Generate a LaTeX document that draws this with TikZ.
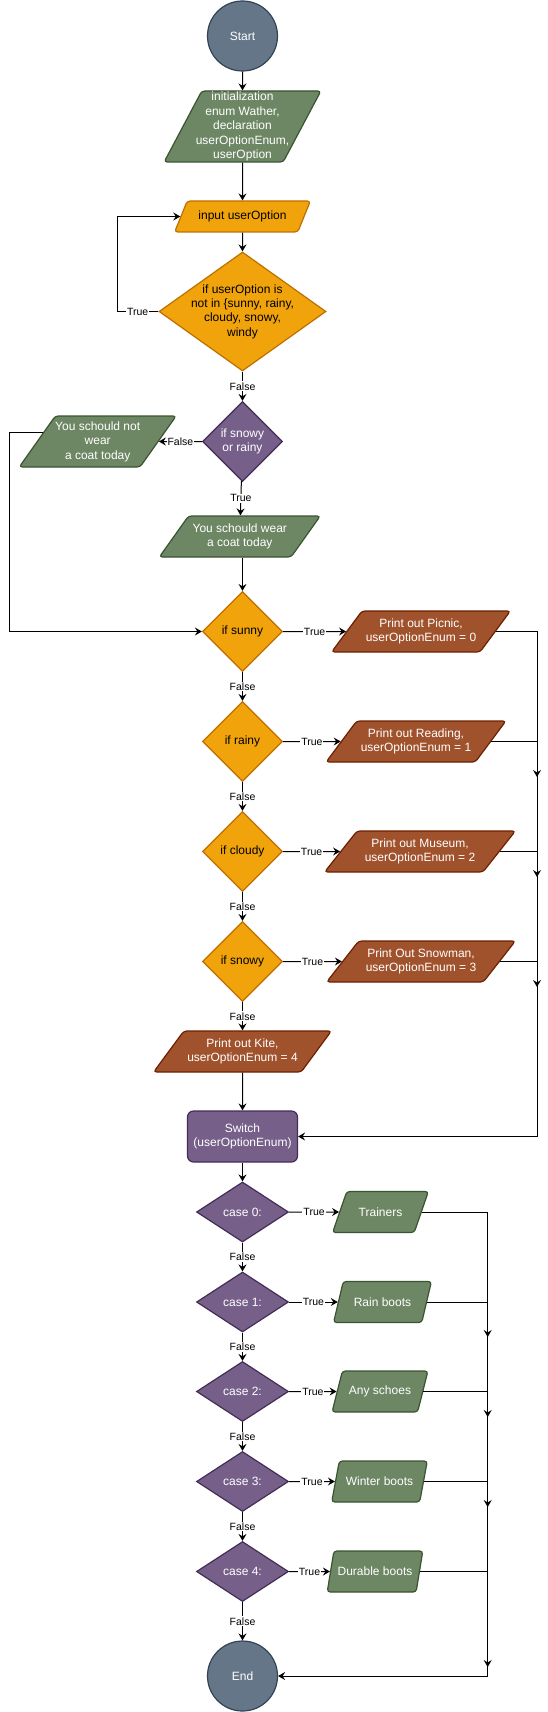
\documentclass[tikz,border=0pt]{standalone}
\usepackage{fontspec}
\setmainfont{Liberation Sans}
\usetikzlibrary{shapes.geometric,positioning,arrows.meta,calc}

\definecolor{slatefill}{HTML}{647687}
\definecolor{slateline}{HTML}{314354}
\definecolor{leaffill}{HTML}{6D8764}
\definecolor{leafline}{HTML}{3A5431}
\definecolor{amberfill}{HTML}{F0A30A}
\definecolor{amberline}{HTML}{BD7000}
\definecolor{rustfill}{HTML}{A0522D}
\definecolor{rustline}{HTML}{6D1F00}
\definecolor{plumfill}{HTML}{76608A}
\definecolor{plumline}{HTML}{432D57}

\begin{document}
\begin{tikzpicture}[x=1pt,y=-1pt,on grid,line width=1pt,
    font=\fontsize{12}{14.4}\selectfont,
    >={Stealth[length=7pt,width=8pt,inset=2.5pt]},
    shape line/.style={line width=1.2pt},
    terminal/.style={circle,shape line,minimum size=70pt,inner sep=0pt,fill=slatefill,draw=slateline,text=white},
    io/.style={trapezium,trapezium stretches=true,trapezium left angle=#1,
      trapezium right angle=\the\numexpr180-#1\relax,rounded corners=3pt,shape line,
      inner xsep=-12pt,inner ysep=0pt,align=center,minimum height=41pt},
    decision/.style={diamond,shape line,inner sep=0pt,align=center,minimum width=80pt,minimum height=80pt},
    casetest/.style={decision,plum,minimum width=92pt,minimum height=60pt},
    switchbox/.style={rectangle,rounded corners=6pt,shape line,plum,minimum width=110pt,minimum height=51pt,align=center},
    leaf/.style={fill=leaffill,draw=leafline,text=white},
    amber/.style={fill=amberfill,draw=amberline,text=black},
    rust/.style={fill=rustfill,draw=rustline,text=white},
    plum/.style={fill=plumfill,draw=plumline,text=white},
    lbl/.style={fill=white,inner sep=1pt,font=\fontsize{10.5}{12}\selectfont}]
    \useasboundingbox (0,0) rectangle (547,1712);

    % reading the weather
    \node[terminal] (start) at (242.5,36) {Start};
    \node[io=65,leaf,minimum width=157pt,minimum height=71pt] (init) [below=90.5pt of start]
      {initialization\\enum Wather,\\declaration\\userOptionEnum,\\userOption};
    \node[io=57,amber,minimum width=136pt,minimum height=31pt] (input) [below=90pt of init] {input userOption};
    \node[decision,amber,minimum width=167pt,minimum height=119pt,inner sep=-4pt,shape aspect=1.4]
      (valid) [below=95pt of input] {if userOption is\\not in \{sunny, rainy,\\cloudy, snowy,\\windy};
    \node[decision,plum] (coat) [below=130pt of valid] {if snowy\\or rainy};
    \node[io=57,leaf,minimum width=157pt,minimum height=51pt] (nocoat) [left=144.8pt of coat]
      {You schould not\\wear\\a coat today};
    \node[io=52,leaf,minimum width=161pt] (wearcoat) [below left=95pt and 2.7pt of coat]
      {You schould wear\\a coat today};

    % one test per weather
    \node[decision,amber] (sunny)  [below=190pt of coat]  {if sunny};
    \node[decision,amber] (rainy)  [below=110pt of sunny] {if rainy};
    \node[decision,amber] (cloudy) [below=110pt of rainy] {if cloudy};
    \node[decision,amber] (snowy)  [below=110pt of cloudy] {if snowy};
    \node[io=49,rust,minimum width=179pt] (picnic)  [right=178.5pt of sunny]  {Print out Picnic,\\userOptionEnum = 0};
    \node[io=49,rust,minimum width=180pt] (reading) [right=173.5pt of rainy]  {Print out Reading,\\userOptionEnum = 1};
    \node[io=49,rust,minimum width=191pt] (museum)  [right=177.5pt of cloudy] {Print out Museum,\\userOptionEnum = 2};
    \node[io=49,rust,minimum width=189pt] (snowman) [right=178.5pt of snowy]  {Print Out Snowman,\\userOptionEnum = 3};
    \node[io=49,rust,minimum width=178pt] (kite)    [below=90pt of snowy]     {Print out Kite,\\userOptionEnum = 4};

    % switch on the enum
    \node[switchbox] (switch) [below=85pt of kite] {Switch\\(userOptionEnum)};
    \node[casetest] (case0) [below=75.5pt of switch] {case 0:};
    \node[casetest] (case1) [below=90pt of case0]   {case 1:};
    \node[casetest] (case2) [below=89.5pt of case1] {case 2:};
    \node[casetest] (case3) [below=90pt of case2]   {case 3:};
    \node[casetest] (case4) [below=90pt of case3]   {case 4:};
    \node[io=65,leaf,minimum width=96pt] (trainers) [right=138pt of case0]   {Trainers};
    \node[io=65,leaf,minimum width=98pt] (rain)     [right=140pt of case1]   {Rain boots};
    \node[io=65,leaf,minimum width=96pt] (any)      [right=137.5pt of case2] {Any schoes};
    \node[io=65,leaf,minimum width=96pt] (winter)   [right=137pt of case3]   {Winter boots};
    \node[io=65,leaf,minimum width=96pt] (durable)  [right=132.5pt of case4] {Durable boots};
    \node[terminal] (end) [below=104.5pt of case4] {End};

    \coordinate (busA1) at (537,777);
    \coordinate (busA2) at (537,877);
    \coordinate (busA3) at (537,987);
    \coordinate (busB1) at (487.7,1337);
    \coordinate (busB2) at (487.7,1417);
    \coordinate (busB3) at (487.7,1507);
    \coordinate (busB4) at (487.7,1667);

    \path[->]
    (start) edge (init)
    (init) edge (input)
    (input) edge (valid)
    (valid) edge node[lbl] {False} (coat)
    (coat) edge node[lbl] {False} (nocoat)
        edge node[lbl] {True} (wearcoat)
    (sunny) edge node[lbl] {True} (picnic)
        edge node[lbl] {False} (rainy)
    (rainy) edge node[lbl] {True} (reading)
        edge node[lbl] {False} (cloudy)
    (cloudy) edge node[lbl] {True} (museum)
        edge node[lbl] {False} (snowy)
    (snowy) edge node[lbl] {True} (snowman)
        edge node[lbl] {False} (kite)
    (kite) edge (switch)
    (switch) edge (case0)
    (case0) edge node[lbl] {True} (trainers)
        edge node[lbl] {False} (case1)
    (case1) edge node[lbl] {True} (rain)
        edge node[lbl] {False} (case2)
    (case2) edge node[lbl] {True} (any)
        edge node[lbl] {False} (case3)
    (case3) edge node[lbl] {True} (winter)
        edge node[lbl] {False} (case4)
    (case4) edge node[lbl] {True} (durable)
        edge node[lbl] {False} (end);

    \draw[->] (wearcoat.south -| sunny) -- (sunny);
    \draw[->] (valid.west) -- node[lbl] {True} ++(-41.4,0) |- (input);
    \draw[->] ($(nocoat.bottom left corner)!.667!(nocoat.top left corner)$) -- ++(-33.5,0) |- (sunny);

    % right hand collectors
    \draw[->] (picnic.east) -| (busA1);
    \draw[->] (reading.east) -| (busA2);
    \draw[->] (museum.east) -| (busA3);
    \draw[->] (snowman.east) -| (busA3 |- switch.east) -- (switch.east);
    \draw[->] (trainers.east) -| (busB1);
    \draw[->] (rain.east) -| (busB2);
    \draw[->] (any.east) -| (busB3);
    \draw[->] (winter.east) -| (busB4);
    \draw[->] (durable.east) -| (busB4 |- end.east) -- (end.east);
\end{tikzpicture}
\end{document}
